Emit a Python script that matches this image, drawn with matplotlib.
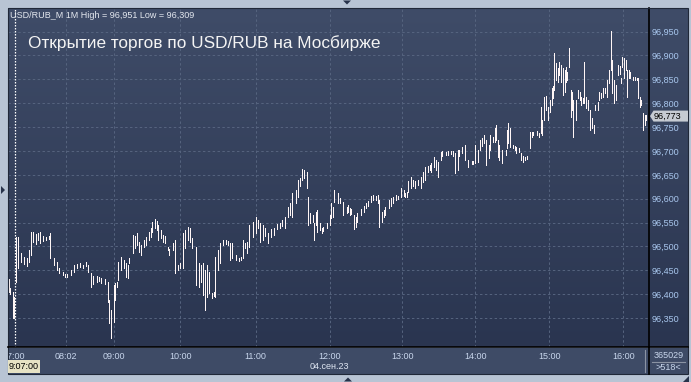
import numpy as np
import matplotlib
matplotlib.use('Agg')
from matplotlib import pyplot as plt
from matplotlib.patches import Rectangle, Polygon
from matplotlib.colors import LinearSegmentedColormap
from matplotlib.transforms import blended_transform_factory, IdentityTransform

plt.rcParams['font.family'] = ['Liberation Sans', 'DejaVu Sans']

# ---- data: 1-minute bars, USD/RUB_TOM on MOEX, 04.09.2023 ----
BAR = [1, 2, 4, 5, 7, 8, 11, 13, 16, 17, 19, 21, 23, 25, 26, 29, 31, 34, 35, 38,
       40, 42, 45, 47, 49, 52, 54, 57, 59, 62, 64, 66, 68, 70, 73, 75, 77, 80, 82, 83,
       85, 87, 88, 90, 91, 93, 96, 97, 99, 100, 103, 105, 106, 108, 110, 112, 114, 116, 118, 119,
       121, 123, 124, 126, 128, 129, 132, 133, 136, 138, 140, 142, 144, 146, 148, 150, 152, 155, 157, 159,
       161, 162, 164, 166, 168, 170, 171, 173, 175, 177, 180, 181, 183, 185, 188, 190, 192, 194, 195, 197,
       199, 202, 204, 206, 208, 210, 212, 214, 217, 219, 222, 224, 226, 228, 231, 232, 234, 237, 239, 241,
       242, 244, 246, 247, 249, 251, 252, 254, 255, 257, 259, 260, 263, 265, 266, 268, 269, 272, 274, 276,
       279, 280, 282, 283, 285, 287, 288, 291, 293, 295, 297, 299, 301, 303, 305, 306, 308, 310, 311, 314,
       316, 317, 320, 321, 324, 326, 327, 329, 330, 332, 334, 335, 338, 340, 342, 344, 346, 348, 349, 351,
       353, 354, 357, 358, 361, 363, 365, 367, 368, 371, 372, 374, 377, 379, 382, 383, 385, 387, 389, 391,
       392, 394, 396, 397, 400, 401, 402, 404, 405, 407, 410, 411, 412, 414, 416, 418, 419, 421, 423, 424,
       426, 428, 430, 432, 433, 436, 438, 439, 440, 442, 443, 445, 447, 448, 449, 450, 452, 453, 454, 456,
       457, 459, 460, 461, 462, 464, 465, 466, 468, 470, 471, 472, 474, 475, 476, 478, 480, 481, 483, 484,
       486, 487, 489, 490, 492, 494, 495, 497, 498, 499, 501, 503, 504, 505, 506, 508, 509, 510, 512, 513,
       515, 517, 518, 519, 521, 522, 523, 525, 526]

HIGH = [96.432, 96.413, 96.405, 96.394, 96.520, 96.520, 96.486, 96.478, 96.476, 96.493, 96.530, 96.530, 96.526, 96.528, 96.530, 96.522, 96.520, 96.522, 96.528, 96.476,
        96.467, 96.455, 96.447, 96.442, 96.442, 96.451, 96.461, 96.463, 96.465, 96.461, 96.467, 96.461, 96.444, 96.438, 96.438, 96.436, 96.434, 96.432, 96.426, 96.388,
        96.367, 96.419, 96.423, 96.426, 96.467, 96.478, 96.472, 96.465, 96.461, 96.476, 96.524, 96.522, 96.528, 96.509, 96.503, 96.514, 96.520, 96.530, 96.539, 96.551,
        96.557, 96.553, 96.545, 96.534, 96.524, 96.522, 96.499, 96.495, 96.507, 96.514, 96.461, 96.465, 96.528, 96.534, 96.541, 96.539, 96.518, 96.499, 96.465, 96.461,
        96.465, 96.451, 96.461, 96.447, 96.403, 96.405, 96.478, 96.493, 96.507, 96.514, 96.514, 96.511, 96.507, 96.507, 96.482, 96.476, 96.478, 96.514, 96.507, 96.509,
        96.545, 96.551, 96.562, 96.555, 96.549, 96.545, 96.539, 96.528, 96.537, 96.539, 96.547, 96.549, 96.555, 96.562, 96.583, 96.591, 96.612, 96.618, 96.639, 96.643,
        96.662, 96.660, 96.656, 96.604, 96.570, 96.566, 96.549, 96.572, 96.576, 96.549, 96.539, 96.541, 96.549, 96.566, 96.591, 96.583, 96.618, 96.612, 96.601, 96.593,
        96.583, 96.587, 96.581, 96.578, 96.566, 96.562, 96.570, 96.578, 96.585, 96.591, 96.595, 96.606, 96.608, 96.606, 96.608, 96.597, 96.572, 96.576, 96.583, 96.597,
        96.601, 96.604, 96.608, 96.606, 96.622, 96.618, 96.612, 96.614, 96.637, 96.645, 96.639, 96.637, 96.639, 96.645, 96.656, 96.666, 96.668, 96.671, 96.675, 96.687,
        96.681, 96.677, 96.698, 96.700, 96.698, 96.700, 96.700, 96.700, 96.696, 96.702, 96.702, 96.708, 96.712, 96.681, 96.679, 96.679, 96.712, 96.702, 96.723, 96.727,
        96.733, 96.723, 96.712, 96.733, 96.729, 96.748, 96.754, 96.723, 96.712, 96.702, 96.702, 96.744, 96.758, 96.748, 96.712, 96.710, 96.708, 96.706, 96.696, 96.689,
        96.687, 96.689, 96.740, 96.740, 96.740, 96.742, 96.738, 96.792, 96.765, 96.813, 96.815, 96.792, 96.807, 96.832, 96.836, 96.905, 96.884, 96.874, 96.886, 96.880,
        96.874, 96.869, 96.876, 96.865, 96.915, 96.828, 96.823, 96.807, 96.807, 96.828, 96.823, 96.813, 96.811, 96.886, 96.813, 96.807, 96.786, 96.769, 96.754, 96.796,
        96.802, 96.823, 96.821, 96.832, 96.832, 96.848, 96.869, 96.951, 96.890, 96.848, 96.838, 96.880, 96.878, 96.853, 96.897, 96.895, 96.890, 96.869, 96.869, 96.865,
        96.855, 96.855, 96.853, 96.853, 96.813, 96.807, 96.779, 96.775, 96.775]

LOW = [96.405, 96.400, 96.350, 96.350, 96.426, 96.455, 96.467, 96.463, 96.459, 96.467, 96.482, 96.509, 96.505, 96.514, 96.507, 96.511, 96.514, 96.516, 96.476, 96.461,
       96.451, 96.444, 96.440, 96.436, 96.436, 96.440, 96.447, 96.455, 96.457, 96.455, 96.459, 96.447, 96.415, 96.421, 96.426, 96.428, 96.423, 96.421, 96.384, 96.340,
       96.309, 96.342, 96.388, 96.415, 96.430, 96.451, 96.455, 96.436, 96.434, 96.465, 96.486, 96.497, 96.503, 96.488, 96.482, 96.499, 96.503, 96.514, 96.520, 96.530,
       96.539, 96.534, 96.514, 96.518, 96.509, 96.507, 96.493, 96.482, 96.493, 96.444, 96.451, 96.455, 96.455, 96.497, 96.514, 96.509, 96.497, 96.419, 96.415, 96.426,
       96.398, 96.367, 96.394, 96.403, 96.392, 96.396, 96.394, 96.451, 96.465, 96.503, 96.505, 96.503, 96.472, 96.476, 96.472, 96.470, 96.472, 96.476, 96.497, 96.486,
       96.499, 96.520, 96.528, 96.539, 96.509, 96.514, 96.522, 96.507, 96.520, 96.524, 96.537, 96.539, 96.543, 96.539, 96.562, 96.566, 96.562, 96.591, 96.604, 96.627,
       96.639, 96.643, 96.622, 96.545, 96.549, 96.551, 96.514, 96.545, 96.530, 96.534, 96.528, 96.532, 96.539, 96.545, 96.560, 96.562, 96.593, 96.591, 96.591, 96.566,
       96.570, 96.572, 96.566, 96.568, 96.537, 96.541, 96.551, 96.566, 96.572, 96.581, 96.585, 96.593, 96.597, 96.597, 96.591, 96.541, 96.551, 96.562, 96.566, 96.581,
       96.585, 96.591, 96.597, 96.599, 96.604, 96.606, 96.604, 96.604, 96.614, 96.622, 96.627, 96.622, 96.629, 96.622, 96.635, 96.639, 96.656, 96.660, 96.656, 96.666,
       96.660, 96.645, 96.681, 96.689, 96.691, 96.691, 96.694, 96.689, 96.654, 96.660, 96.689, 96.696, 96.681, 96.666, 96.673, 96.673, 96.675, 96.677, 96.702, 96.710,
       96.717, 96.671, 96.685, 96.702, 96.719, 96.719, 96.723, 96.687, 96.681, 96.675, 96.691, 96.706, 96.717, 96.708, 96.706, 96.702, 96.696, 96.698, 96.681, 96.677,
       96.681, 96.683, 96.706, 96.729, 96.733, 96.733, 96.729, 96.738, 96.733, 96.765, 96.786, 96.765, 96.781, 96.796, 96.811, 96.828, 96.848, 96.844, 96.859, 96.844,
       96.817, 96.823, 96.844, 96.848, 96.876, 96.771, 96.786, 96.729, 96.765, 96.811, 96.807, 96.796, 96.800, 96.800, 96.790, 96.786, 96.744, 96.748, 96.738, 96.786,
       96.786, 96.807, 96.811, 96.813, 96.821, 96.813, 96.842, 96.869, 96.821, 96.800, 96.807, 96.859, 96.861, 96.842, 96.876, 96.853, 96.869, 96.813, 96.853, 96.853,
       96.848, 96.848, 96.848, 96.811, 96.792, 96.796, 96.744, 96.754, 96.765]

PRICE_TICKS = [96.35, 96.40, 96.45, 96.50, 96.55, 96.60, 96.65, 96.70, 96.75, 96.80, 96.85, 96.90, 96.95]
TIME_BARS = [5, 48, 87, 142, 204, 265, 325, 385, 446, 507]
TIME_LABELS = ['07:00', '08:02', '09:00', '10:00', '11:00', '12:00', '13:00', '14:00', '15:00', '16:00']
DATE_BAR, DATE_LABEL = 265, '04.сен.23'
SESSION_BAR = 5.5           # day separator
LAST_PRICE = 96.773
HI_ALL, LO_ALL = 96.951, 96.309
N_BARS, N_TOTAL = 518, 365029
CURSOR_TIME = '9:07:00'

W, H = 691, 382
FRAME = '#b8c4d4'


def box(x0, y0, x1, y1):
    """pixel box (top-left origin) -> figure fraction rect"""
    return [x0 / W, 1 - y1 / H, (x1 - x0) / W, (y1 - y0) / H]


def fpt(x, y):
    return (x / W, 1 - y / H)


def price_fmt(v):
    return ('%.3f' % v).replace('.', ',')


fig = plt.figure(figsize=(W / 100, H / 100), dpi=100, facecolor=FRAME)

# gradient backdrop behind plot + price scale
bg = fig.add_axes(box(8, 8, 688, 347.3))
cmap = LinearSegmentedColormap.from_list('bg', ['#2a3550', '#3f4c68'])
bg.imshow(np.linspace(0, 1, 256)[:, None], aspect='auto', cmap=cmap,
          origin='lower', extent=(0, 1, 0, 1))
bg.set_axis_off()

ax = fig.add_axes(box(8, 8, 648.7, 347.3))
ax.patch.set_alpha(0)
ax.set_xlim(0, 528)
ax.set_ylim(96.2889, 96.9993)

ax.set_yticks(PRICE_TICKS)
ax.set_yticklabels([price_fmt(v) for v in PRICE_TICKS])
ax.yaxis.tick_right()
ax.tick_params(axis='y', length=0, pad=2, labelsize=6.5, labelcolor='#a9c7ee')
ax.set_xticks(TIME_BARS[1:])
ax.tick_params(axis='x', length=0, labelbottom=False)
ax.grid(True, color='#56647f', lw=0.7, ls=(0, (2.5, 2.5)))
for s in ['top', 'left', 'bottom']:
    ax.spines[s].set_visible(False)
ax.spines['right'].set_color('black')
ax.spines['right'].set_linewidth(1.2)

ax.axvline(SESSION_BAR, color='white', lw=0.9, ls=(0, (1.2, 1.2)))
ax.vlines(BAR, LOW, HIGH, color='#fff6f6', lw=0.72, antialiased=False)

# last price marker on the scale
yd = ax.transData.transform((0, LAST_PRICE))[1]
fig.patches.append(Polygon([(650, yd), (653.5, yd + 5.5), (688, yd + 5.5),
                            (688, yd - 5.5), (653.5, yd - 5.5)],
                           closed=True, fc='#c6cbd3', ec='none',
                           transform=IdentityTransform(), figure=fig))
fig.text(654, yd, price_fmt(LAST_PRICE), transform=IdentityTransform(),
         fontsize=6.5, color='black', va='center', ha='left')

# frame lines
fig.add_artist(plt.Line2D([8 / W, 688 / W], [1 - 347.3 / H] * 2, color='black', lw=1.2))
fig.add_artist(Rectangle(fpt(7.5, 373.5), 680.5 / W, 366 / H, fill=False,
                         ec='#202838', lw=0.8))

# time strip
strip = fig.add_axes(box(8, 347.8, 688, 373.5))
strip.set_facecolor('#3e4b66')
strip.set_xticks([])
strip.set_yticks([])
for s in strip.spines.values():
    s.set_visible(False)
tr = blended_transform_factory(ax.transData, strip.transAxes)
for b, lab in zip(TIME_BARS, TIME_LABELS):
    strip.text(b, 0.68, lab, transform=tr, ha='center', va='center',
               fontsize=6.5, color='#c8d6ec', clip_on=True)
strip.text(DATE_BAR, 0.26, DATE_LABEL, transform=tr, ha='center', va='center',
           fontsize=6.5, color='#dfe6f2')
fig.add_artist(plt.Line2D([645 / W] * 2, [1 - 350 / H, 1 - 372 / H], color='#8a93a3', lw=0.8))
fig.add_artist(plt.Line2D([648.5 / W] * 2, [1 - 347 / H, 1 - 373.5 / H], color='black', lw=1.2))
fig.add_artist(plt.Line2D([652 / W, 685 / W], [1 - 361.7 / H] * 2, color='#8a93a3', lw=0.8))
fig.text(*fpt(668.5, 355.7), str(N_TOTAL), ha='center', va='center', fontsize=6.5, color='#c8d6ec')
fig.text(*fpt(668.5, 367.7), '>%d<' % N_BARS, ha='center', va='center', fontsize=6.5, color='#c8d6ec')

# cursor time box
fig.add_artist(Rectangle(fpt(8.3, 372.7), 31.7 / W, 12.7 / H, fc='#e6e2c4', ec='none'))
fig.text(*fpt(9, 366.3), CURSOR_TIME, ha='left', va='center', fontsize=6.5, color='black')

# header and title
fig.text(*fpt(10, 15), 'USD/RUB_M 1M High = %s Low = %s' % (price_fmt(HI_ALL), price_fmt(LO_ALL)),
         ha='left', va='center', fontsize=6.5, color='#e4e8ef')
fig.text(*fpt(28, 43.5), 'Открытие торгов по USD/RUB на Мосбирже',
         ha='left', va='center', fontsize=12.4, color='#f4f4f4')

# small scroll triangles on the frame
tri = '#27324a'
for pts in ([(343, 0.5), (351, 0.5), (347, 4.5)],
            [(1, 186), (1, 194), (5, 190)],
            [(344, 381.5), (352, 381.5), (348, 377.5)],
            [(683, 381.5), (689, 381.5), (689, 376)]):
    fig.add_artist(Polygon([fpt(x, y) for x, y in pts], closed=True, fc=tri, ec='none'))

fig.savefig('out.png', dpi=100, facecolor=FRAME)
